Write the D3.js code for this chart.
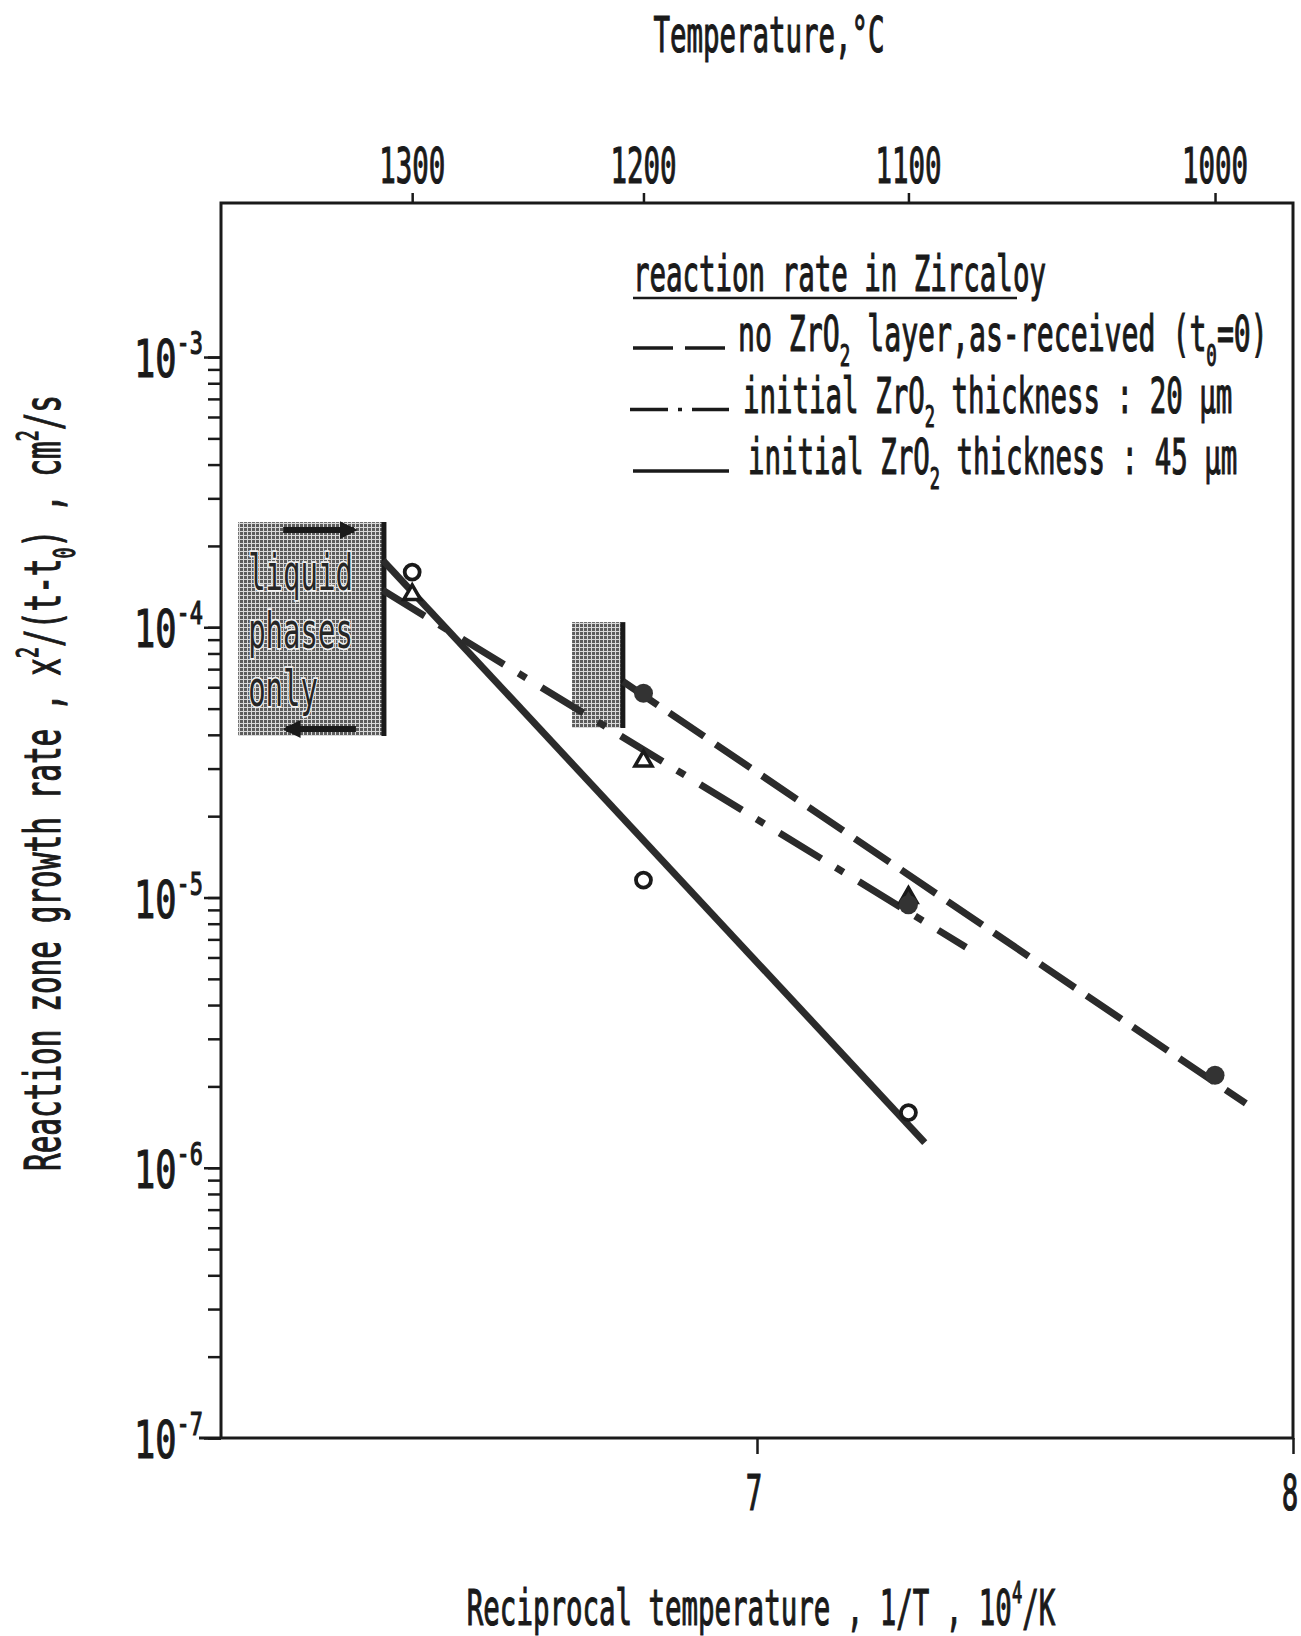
<!DOCTYPE html>
<html>
<head>
<meta charset="utf-8">
<script src="https://cdn.jsdelivr.net/npm/d3@7"></script>
<style>
  body { margin: 0; background: #fff; }
  text { white-space: pre; }
</style>
</head>
<body>
<div id="chart"></div>
<script>
const width = 1301;
const height = 1636;

// top axis, degrees C
const topTicks = [1300, 1200, 1100, 1000];
// bottom axis, 10^4/K
const bottomTicks = [7, 8];
const yDecades = [1e-7, 1e-6, 1e-5, 1e-4, 1e-3];

// measured points: [temperature C, rate cm2/s]
const noLayerPts = [[1200, 5.7e-5], [1100, 9.4e-6], [1000, 2.2e-6]];
const oxide20Pts = [[1300, 1.32e-4], [1200, 3.2e-5], [1100, 1.0e-5]];
const oxide45Pts = [[1300, 1.6e-4], [1200, 1.16e-5], [1100, 1.6e-6]];

// fitted lines: [1/T (10^4/K), rate]
const noLayerLine = [[6.750, 6.3e-5], [7.912, 1.73e-6]];
const oxide20Line = [[6.302, 1.37e-4], [7.390, 6.55e-6]];
const oxide45Line = [[6.302, 1.77e-4], [7.313, 1.24e-6]];

// shaded regions
const liquidX = [6.032, 6.304];
const liquidY = [3.96e-5, 2.45e-4];
const mixedX = [6.655, 6.746];
const mixedY = [4.24e-5, 1.045e-4];

const legendTitle = "reaction rate in Zircaloy";
const legendLabels = [
    "no ZrO_{2} layer,as-received (t_{0}=0)",
    "initial ZrO_{2} thickness : 20 µm",
    "initial ZrO_{2} thickness : 45 µm"
];

const SX = 0.56;   // horizontal squeeze for the narrow lettering
const FONT = "'DejaVu Sans Mono', 'Liberation Mono', monospace";
const ink = "#1a1a1a";
const lineInk = "#2b2b2b";

const toInv = T => 1e4 / (T + 273.15);

const svg = d3.select('#chart')
    .append('svg')
    .attr('width', width)
    .attr('height', height)
    .style('font-family', FONT);

const x = d3.scaleLinear().domain([6, 8]).range([221, 1293]);
const y = d3.scaleLog().domain([1e-7, Math.pow(10, -2.43)]).range([1438, 203]);

const defs = svg.append('defs');
const pat = defs.append('pattern')
    .attr('id', 'halftone')
    .attr('width', 4).attr('height', 4)
    .attr('patternUnits', 'userSpaceOnUse');
pat.append('rect').attr('width', 4).attr('height', 4).attr('fill', '#d9d9d9');
pat.append('rect').attr('width', 3).attr('height', 3).attr('fill', '#5c5c5c');

// text with _{sub} and ^{sup}
function parts(str) {
    const out = [];
    const re = /([_^])\{([^}]*)\}/g;
    let last = 0, m;
    while ((m = re.exec(str))) {
        if (m.index > last) out.push({ t: str.slice(last, m.index), k: 0 });
        out.push({ t: m[2], k: m[1] === '_' ? 1 : -1 });
        last = re.lastIndex;
    }
    if (last < str.length) out.push({ t: str.slice(last), k: 0 });
    return out;
}

function label(px, py, str, opts = {}) {
    const size = opts.size || 49;
    const sx = opts.sx || SX;
    const t = svg.append('text')
        .attr('transform', `translate(${px},${py})${opts.rotate ? ' rotate(-90)' : ''} scale(${sx},1)`)
        .attr('text-anchor', opts.anchor || 'start')
        .attr('font-size', size)
        .attr('fill', opts.fill || ink)
        .attr('stroke', opts.stroke || ink)
        .attr('stroke-width', opts.sw || 1.2)
        .attr('paint-order', 'stroke');
    let cur = 0;
    parts(str).forEach(p => {
        const off = p.k === 1 ? size * 0.3 : p.k === -1 ? -size * (opts.supUp || 0.45) : 0;
        t.append('tspan')
            .attr('dy', off - cur)
            .attr('font-size', p.k ? size * (opts.small || 0.62) : size)
            .text(p.t);
        cur = off;
    });
    return t;
}

// shaded regions
svg.append('rect')
    .attr('x', x(liquidX[0])).attr('y', y(liquidY[1]))
    .attr('width', x(liquidX[1]) - x(liquidX[0]))
    .attr('height', y(liquidY[0]) - y(liquidY[1]))
    .attr('fill', 'url(#halftone)');
svg.append('line')
    .attr('x1', x(liquidX[1])).attr('x2', x(liquidX[1]))
    .attr('y1', y(liquidY[1])).attr('y2', y(liquidY[0]))
    .attr('stroke', ink).attr('stroke-width', 5);

svg.append('rect')
    .attr('x', x(mixedX[0])).attr('y', y(mixedY[1]))
    .attr('width', x(mixedX[1]) - x(mixedX[0]))
    .attr('height', y(mixedY[0]) - y(mixedY[1]))
    .attr('fill', 'url(#halftone)');
svg.append('line')
    .attr('x1', x(mixedX[1]) + 2).attr('x2', x(mixedX[1]) + 2)
    .attr('y1', y(mixedY[1])).attr('y2', y(mixedY[0]))
    .attr('stroke', ink).attr('stroke-width', 5);

// arrows in the liquid box
const bx0 = x(liquidX[0]), bx1 = x(liquidX[1]);
const by0 = y(liquidY[1]), by1 = y(liquidY[0]);
defs.append('marker')
    .attr('id', 'head').attr('viewBox', '0 0 10 10')
    .attr('refX', 8).attr('refY', 5)
    .attr('markerWidth', 3).attr('markerHeight', 3)
    .attr('orient', 'auto')
    .append('path').attr('d', 'M0,0L10,5L0,10Z').attr('fill', ink);
svg.append('line')
    .attr('x1', bx0 + 45).attr('x2', bx1 - 30)
    .attr('y1', by0 + 8).attr('y2', by0 + 8)
    .attr('stroke', ink).attr('stroke-width', 6)
    .attr('marker-end', 'url(#head)');
svg.append('line')
    .attr('x1', bx1 - 28).attr('x2', bx0 + 48)
    .attr('y1', by1 - 7).attr('y2', by1 - 7)
    .attr('stroke', ink).attr('stroke-width', 6)
    .attr('marker-end', 'url(#head)');

const boxText = ['liquid', 'phases', 'only'];
boxText.forEach((s, i) => {
    label(bx0 + 10, by0 + 68 + i * 58, s, { size: 50, sx: 0.58, fill: '#262626', stroke: '#f0f0f0', sw: 3.5 });
});

// frame and axes
svg.append('rect')
    .attr('x', x(6)).attr('y', y.range()[1])
    .attr('width', x(8) - x(6))
    .attr('height', y.range()[0] - y.range()[1])
    .attr('fill', 'none')
    .attr('stroke', ink).attr('stroke-width', 3);
svg.append('line')
    .attr('x1', x(6) - 22).attr('x2', x(6))
    .attr('y1', y(1e-7)).attr('y2', y(1e-7))
    .attr('stroke', ink).attr('stroke-width', 3);

const yMinor = d3.axisLeft(y)
    .tickValues(y.ticks().filter(d => d <= 1.0001e-3))
    .tickSize(13).tickFormat('');
const yMajor = d3.axisLeft(y).tickValues(yDecades).tickSize(17).tickFormat('');
const xTop = d3.axisTop(x).tickValues(topTicks.map(toInv)).tickSize(10).tickFormat('');
const xBottom = d3.axisBottom(x).tickValues(bottomTicks).tickSize(16).tickFormat('');

[[yMinor, `translate(${x(6)},0)`], [yMajor, `translate(${x(6)},0)`],
 [xTop, `translate(0,${y.range()[1]})`], [xBottom, `translate(0,${y.range()[0]})`]]
    .forEach(([ax, tr]) => {
        const g = svg.append('g').attr('transform', tr).call(ax);
        g.select('.domain').remove();
        g.selectAll('line').attr('stroke', ink).attr('stroke-width', 2.5);
    });

// tick labels
yDecades.forEach(d => {
    label(x(6) - 18, y(d) + 20, '10^{' + Math.round(Math.log10(d)) + '}',
        { anchor: 'end', size: 52, sx: 0.68, small: 0.62, supUp: 0.44 });
});
topTicks.forEach(T => label(x(toInv(T)), 183, String(T), { anchor: 'middle' }));
bottomTicks.forEach(v => label(x(v) - 3, 1510, String(v), { anchor: 'middle' }));

// titles
label(769, 52, 'Temperature,°C', { anchor: 'middle' });
label(761, 1625, 'Reciprocal temperature , 1/T , 10^{4}/K', { anchor: 'middle' });
label(60, 783, 'Reaction zone growth rate , x^{2}/(t-t_{0}) , cm^{2}/s',
    { anchor: 'middle', rotate: true, sx: 0.6 });

// fitted lines
const line = d3.line().x(d => x(d[0])).y(d => y(d[1]));
svg.append('path').datum(oxide45Line)
    .attr('d', line).attr('fill', 'none')
    .attr('stroke', lineInk).attr('stroke-width', 7);
svg.append('path').datum(oxide20Line)
    .attr('d', line).attr('fill', 'none')
    .attr('stroke', lineInk).attr('stroke-width', 7)
    .attr('stroke-dasharray', '49,17,9,18');
svg.append('path').datum(noLayerLine)
    .attr('d', line).attr('fill', 'none')
    .attr('stroke', lineInk).attr('stroke-width', 7)
    .attr('stroke-dasharray', '42,14');

// markers
const tri = d3.symbol().type(d3.symbolTriangle).size(125);
svg.selectAll('.tri').data(oxide20Pts).enter()
    .append('path')
    .attr('class', 'tri')
    .attr('transform', d => `translate(${x(toInv(d[0]))},${y(d[1])})`)
    .attr('d', tri)
    .attr('fill', d => d[0] === 1100 ? '#333' : '#fff')
    .attr('stroke', ink).attr('stroke-width', 3.5);

svg.selectAll('.open').data(oxide45Pts).enter()
    .append('circle')
    .attr('class', 'open')
    .attr('cx', d => x(toInv(d[0])))
    .attr('cy', d => y(d[1]))
    .attr('r', 7.5)
    .attr('fill', '#fff')
    .attr('stroke', ink).attr('stroke-width', 3.8);

svg.selectAll('.filled').data(noLayerPts).enter()
    .append('circle')
    .attr('class', 'filled')
    .attr('cx', d => x(toInv(d[0])))
    .attr('cy', d => y(d[1]))
    .attr('r', 9.5)
    .attr('fill', '#333');

// legend
const lgX = 633;
label(lgX, 291, legendTitle);
svg.append('line')
    .attr('x1', lgX).attr('x2', 1017)
    .attr('y1', 298).attr('y2', 298)
    .attr('stroke', ink).attr('stroke-width', 2.5);

const sampleDash = ['40,12', '38,10,4,10', null];
legendLabels.forEach((s, i) => {
    const base = 351 + i * 61.5;
    svg.append('line')
        .attr('x1', lgX - (i === 1 ? 3 : 0)).attr('x2', lgX + 96)
        .attr('y1', base - 3).attr('y2', base - 3)
        .attr('stroke', ink).attr('stroke-width', 3.5)
        .attr('stroke-dasharray', sampleDash[i]);
    label(738 + i * 5, base, s, { sx: i === 0 ? 0.575 : SX });
});
</script>
</body>
</html>
